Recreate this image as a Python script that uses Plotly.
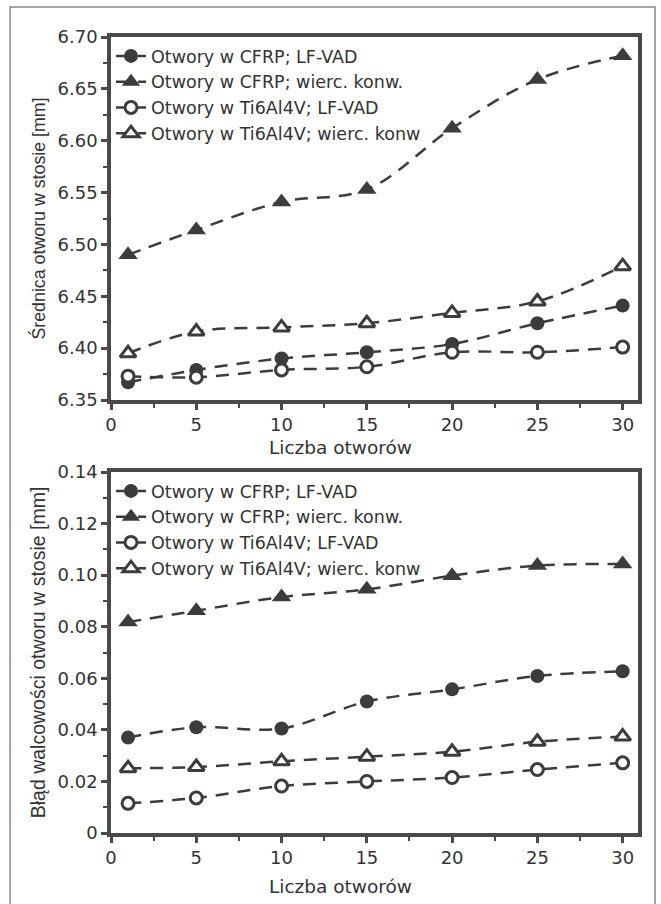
import plotly.graph_objects as go

# ---- data ----
liczba = [1, 5, 10, 15, 20, 25, 30]

# Top: hole diameter [mm]
d_cfrp_lfvad = [6.367, 6.379, 6.390, 6.396, 6.404, 6.424, 6.441]
d_cfrp_konw = [6.490, 6.514, 6.541, 6.553, 6.612, 6.659, 6.682]
d_ti_lfvad = [6.373, 6.372, 6.379, 6.382, 6.396, 6.396, 6.401]
d_ti_konw = [6.395, 6.416, 6.420, 6.424, 6.434, 6.445, 6.479]

# Bottom: cylindricity error [mm]
c_cfrp_lfvad = [0.037, 0.041, 0.0405, 0.051, 0.0557, 0.0609, 0.0627]
c_cfrp_konw = [0.0818, 0.0862, 0.0915, 0.0945, 0.0998, 0.1037, 0.1043]
c_ti_lfvad = [0.0115, 0.0136, 0.0182, 0.0200, 0.0215, 0.0246, 0.0272]
c_ti_konw = [0.0251, 0.0256, 0.0278, 0.0296, 0.0315, 0.0354, 0.0374]

names = ["Otwory w CFRP; LF-VAD", "Otwory w CFRP; wierc. konw.",
         "Otwory w Ti6Al4V; LF-VAD", "Otwory w Ti6Al4V; wierc. konw"]

top_ticks = [6.35, 6.40, 6.45, 6.50, 6.55, 6.60, 6.65, 6.70]
top_ticktext = ["6.35", "6.40", "6.45", "6.50", "6.55", "6.60", "6.65", "6.70"]
bot_ticks = [0, 0.02, 0.04, 0.06, 0.08, 0.10, 0.12, 0.14]
bot_ticktext = ["0", "0.02", "0.04", "0.06", "0.08", "0.10", "0.12", "0.14"]
x_ticks = [0, 5, 10, 15, 20, 25, 30]

x_title = "Liczba otworów"
y_title_top = "Średnica otworu w stosie [mm]"
y_title_bot = "Błąd walcowości otworu w stosie [mm]"

DARK = "#3c3c3c"
AX = "#4a4a4a"
TXT = "#333333"
FONT = "Liberation Sans, Arial, sans-serif"
WIDE = "DejaVu Sans, Liberation Sans, sans-serif"

W, H = 661, 904

def px_x(p):
    return p / W

def px_y(p):
    return 1 - p / H

styles = [
    dict(symbol="circle", size=14, color=DARK, line=dict(color=DARK, width=0)),
    dict(symbol="triangle-up", size=17, color=DARK, line=dict(color=DARK, width=0)),
    dict(symbol="circle", size=12, color="white", line=dict(color=DARK, width=3)),
    dict(symbol="triangle-up", size=14, color="white", line=dict(color=DARK, width=3)),
]

fig = go.Figure()

top_series = [d_cfrp_lfvad, d_cfrp_konw, d_ti_lfvad, d_ti_konw]
bot_series = [c_cfrp_lfvad, c_cfrp_konw, c_ti_lfvad, c_ti_konw]

for i, ys in enumerate(top_series):
    fig.add_trace(go.Scatter(
        x=liczba, y=ys, name=names[i], mode="lines+markers",
        line=dict(color=DARK, width=2.5, dash="13px,9px", shape="spline"),
        marker=styles[i], xaxis="x", yaxis="y", legend="legend", cliponaxis=False))

for i, ys in enumerate(bot_series):
    fig.add_trace(go.Scatter(
        x=liczba, y=ys, name=names[i], mode="lines+markers",
        line=dict(color=DARK, width=2.5, dash="13px,9px", shape="spline"),
        marker=styles[i], xaxis="x2", yaxis="y2", legend="legend2", cliponaxis=False))

xdom = [px_x(111), px_x(638)]
axis_common = dict(showline=True, linecolor=AX, linewidth=3.5, mirror=True,
                   ticks="outside", ticklen=6, tickwidth=2.5, tickcolor=AX,
                   showgrid=False, zeroline=False, automargin=False)

tfont = dict(size=18, color=TXT, family=WIDE)
minor_x = dict(ticks="outside", ticklen=4, tickwidth=2, tickcolor=AX, dtick=2.5, tick0=0)

fig.update_layout(
    width=W, height=H,
    margin=dict(l=0, r=0, t=0, b=0),
    paper_bgcolor="white", plot_bgcolor="white",
    font=dict(family=FONT, color=TXT),
    xaxis=dict(domain=xdom, range=[0, 30.9], anchor="y", tickvals=x_ticks, tickfont=tfont,
               minor=minor_x, **axis_common),
    yaxis=dict(domain=[px_y(400), px_y(37)], range=[6.35, 6.70], anchor="x",
               tickvals=top_ticks, ticktext=top_ticktext, tickfont=tfont,
               minor=dict(ticks="outside", ticklen=4, tickwidth=2, tickcolor=AX, dtick=0.025, tick0=6.35),
               title=dict(text=y_title_top, font=dict(size=17.8, color=TXT, family=FONT), standoff=8),
               **axis_common),
    xaxis2=dict(domain=xdom, range=[0, 30.9], anchor="y2", tickvals=x_ticks, tickfont=tfont,
                minor=minor_x, **axis_common),
    yaxis2=dict(domain=[px_y(833), px_y(472)], range=[0, 0.14], anchor="x2",
                tickvals=bot_ticks, ticktext=bot_ticktext, tickfont=tfont,
                minor=dict(ticks="outside", ticklen=4, tickwidth=2, tickcolor=AX, dtick=0.01, tick0=0),
                title=dict(text=y_title_bot, font=dict(size=19.5, color=TXT, family=FONT), standoff=8),
                **axis_common),
    legend=dict(x=px_x(111), y=px_y(38), xanchor="left", yanchor="top",
                bgcolor="rgba(0,0,0,0)", font=dict(size=17.5, color=TXT, family=WIDE),
                tracegroupgap=0, itemwidth=30),
    legend2=dict(x=px_x(111), y=px_y(473), xanchor="left", yanchor="top",
                 bgcolor="rgba(0,0,0,0)", font=dict(size=17.5, color=TXT, family=WIDE),
                 tracegroupgap=0, itemwidth=30),
    annotations=[
        dict(text=x_title, xref="paper", yref="paper", x=px_x(340), y=px_y(447),
             xanchor="center", yanchor="middle", showarrow=False,
             font=dict(size=18.5, color=TXT, family=WIDE)),
        dict(text=x_title, xref="paper", yref="paper", x=px_x(340), y=px_y(886),
             xanchor="center", yanchor="middle", showarrow=False,
             font=dict(size=18.5, color=TXT, family=WIDE)),
    ],
    shapes=[dict(type="rect", xref="paper", yref="paper",
                 x0=px_x(10), x1=px_x(655), y0=px_y(915), y1=px_y(7),
                 line=dict(color="#888", width=1.5), fillcolor="rgba(0,0,0,0)", layer="below")],
)

fig.write_html("out.html")
